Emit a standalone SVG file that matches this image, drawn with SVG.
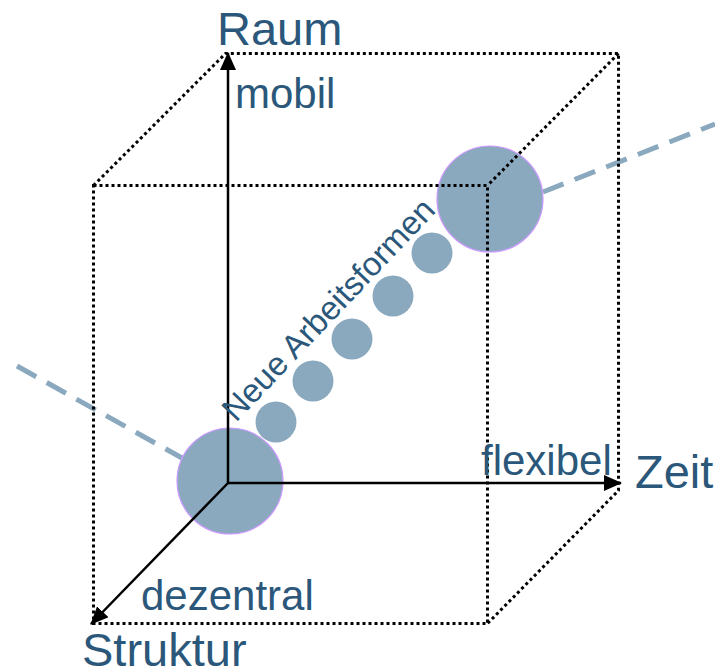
<svg xmlns="http://www.w3.org/2000/svg" width="715" height="671" viewBox="0 0 715 671">
<defs>
<style>
.lbl{font-family:"Liberation Sans",Arial,sans-serif;fill:#2B587A}
.big{font-size:47px}
.sm{font-size:42px}
.dot{fill:none;stroke:#000;stroke-width:3;stroke-dasharray:3 3}
.ax{fill:none;stroke:#000;stroke-width:2.5}
.dash{fill:none;stroke:#8AA8BE;stroke-width:5;stroke-dasharray:22 12}
.bub{fill:#8AA8BE}
.bigbub{fill:#8AA8BE;stroke:#CC99FF;stroke-width:1.2}
</style>
<marker id="ah" markerUnits="userSpaceOnUse" markerWidth="18" markerHeight="16" refX="17" refY="8" orient="auto">
<path d="M0,0 L18,8 L0,16 Z" fill="#000"/>
</marker>
</defs>
<g id="guides">
<line class="dash" x1="17" y1="366" x2="182" y2="458"/>
<line class="dash" x1="543" y1="192" x2="715" y2="124"/>
</g>
<g id="node-start"><circle class="bigbub" cx="230" cy="481" r="53"/></g>
<g id="node-end"><circle class="bigbub" cx="490" cy="199" r="53"/></g>
<g id="steps">
<circle class="bub" cx="276" cy="422" r="20.5"/>
<circle class="bub" cx="313" cy="381" r="20.5"/>
<circle class="bub" cx="352" cy="339" r="20.5"/>
<circle class="bub" cx="393" cy="296" r="20.5"/>
<circle class="bub" cx="432" cy="253" r="20.5"/>
</g>
<g id="cube">
<path class="dot" d="M93.5,185.5 H487.5 V623.5 H93.5 Z"/>
<path class="dot" d="M93.5,185.5 L225.5,53.5 H618.5 V490.5 L487.5,623.5"/>
<line class="dot" x1="618.5" y1="53.5" x2="487.5" y2="185.5"/>
</g>
<g id="connectors">
<line class="ax" x1="228" y1="483" x2="228" y2="53" marker-end="url(#ah)"/>
<line class="ax" x1="228" y1="483" x2="621" y2="483" marker-end="url(#ah)"/>
<line class="ax" x1="228" y1="483" x2="91" y2="624" marker-end="url(#ah)"/>
</g>
<g id="labels">
<text class="lbl big" x="217" y="45">Raum</text>
<text class="lbl sm" x="235" y="108">mobil</text>
<text class="lbl sm" x="481" y="475">flexibel</text>
<text class="lbl big" x="635" y="488">Zeit</text>
<text class="lbl sm" x="141" y="610">dezentral</text>
<text class="lbl big" x="82" y="666">Struktur</text>
<text class="lbl" font-size="33" transform="translate(236,423) rotate(-46.5)">Neue Arbeitsformen</text>
</g>
</svg>
